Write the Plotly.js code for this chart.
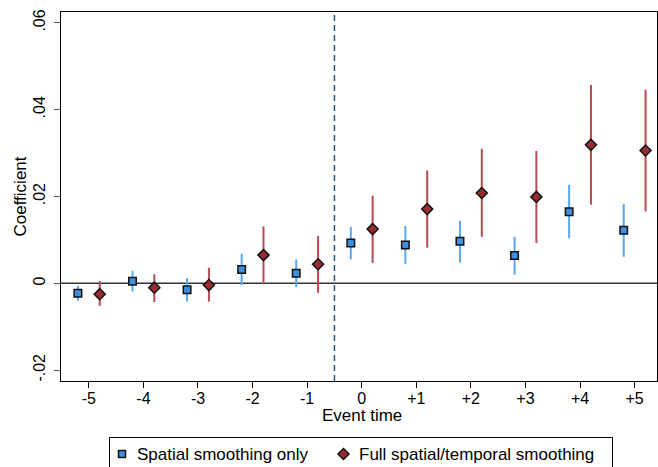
<!DOCTYPE html>
<html>
<head>
<meta charset="utf-8">
<script src="https://cdn.plot.ly/plotly-3.0.1.min.js"></script>
<style>html,body{margin:0;padding:0;background:#fff;}#chart{width:658px;height:467px;}</style>
</head>
<body>
<div id="chart"></div>
<script>
var eventTimes = [-5, -4, -3, -2, -1, 0, 1, 2, 3, 4, 5];
var tickLabels = ["-5", "-4", "-3", "-2", "-1", "0", "+1", "+2", "+3", "+4", "+5"];
var yTickVals = [-0.02, 0, 0.02, 0.04, 0.06];
var yTickLabels = ["-.02", "0", ".02", ".04", ".06"];
var seriesNames = ["Spatial smoothing only", "Full spatial/temporal smoothing"];

var spatialCoef = [-0.0023, 0.0005, -0.0015, 0.0032, 0.0023, 0.0093, 0.0088, 0.0097, 0.0064, 0.0165, 0.0122];
var spatialHi   = [-0.0006, 0.0029, 0.0012, 0.0068, 0.0055, 0.0130, 0.0132, 0.0144, 0.0107, 0.0227, 0.0183];
var spatialLo   = [-0.0040, -0.0019, -0.0042, -0.0004, -0.0009, 0.0055, 0.0044, 0.0048, 0.0020, 0.0104, 0.0061];

var fullCoef = [-0.0025, -0.0010, -0.0004, 0.0065, 0.0044, 0.0125, 0.0171, 0.0208, 0.0199, 0.0319, 0.0306];
var fullHi   = [0.0005, 0.0021, 0.0036, 0.0131, 0.0109, 0.0202, 0.0260, 0.0310, 0.0305, 0.0457, 0.0446];
var fullLo   = [-0.0052, -0.0043, -0.0042, -0.0002, -0.0022, 0.0047, 0.0082, 0.0107, 0.0093, 0.0181, 0.0166];

var offset = 0.2;
function shift(arr, d) { return arr.map(function (v) { return v + d; }); }
function diff(a, b) { return a.map(function (v, i) { return v - b[i]; }); }

var blueFill = "#3f8fe0", blueCI = "#55a8f2", redFill = "#9c2b31", redCI = "#b84a54";

var traces = [
  {
    type: "scatter", mode: "markers", name: seriesNames[0], showlegend: false,
    x: shift(eventTimes, -offset), y: spatialCoef,
    error_y: { type: "data", symmetric: false, array: diff(spatialHi, spatialCoef), arrayminus: diff(spatialCoef, spatialLo), color: blueCI, thickness: 2, width: 0 },
    marker: { symbol: "square", size: 7.5, color: blueFill, line: { color: "#111111", width: 1.5 } },
    cliponaxis: false
  },
  {
    type: "scatter", mode: "markers", name: seriesNames[1], showlegend: false,
    x: shift(eventTimes, offset), y: fullCoef,
    error_y: { type: "data", symmetric: false, array: diff(fullHi, fullCoef), arrayminus: diff(fullCoef, fullLo), color: redCI, thickness: 2, width: 0 },
    marker: { symbol: "diamond", size: 8.5, color: redFill, line: { color: "#111111", width: 1.5 } },
    cliponaxis: false
  }
];

// plot area in pixels: left 61, right 657, top 12, bottom 381
var W = 658, H = 467, L = 61, R = 1, T = 12, B = 86;
var pw = W - L - R, ph = H - T - B;
function px(x) { return (x - L) / pw; }
function py(y) { return (H - B - y) / ph; }

var legY = py(454);

var layout = {
  width: W, height: H,
  margin: { l: L, r: R, t: T, b: B },
  paper_bgcolor: "#ffffff", plot_bgcolor: "#ffffff",
  font: { family: "Liberation Sans, Arial, sans-serif", color: "#000000", size: 16 },
  showlegend: false,
  xaxis: {
    range: [-5.51, 5.41], tickmode: "array", tickvals: eventTimes, ticktext: tickLabels,
    ticks: "outside", ticklen: 6, tickwidth: 1, tickcolor: "#000000", ticklabelstandoff: -3,
    showgrid: false, zeroline: false, showline: true, linecolor: "#000000", linewidth: 1, mirror: true,
    tickfont: { size: 16 }, automargin: false
  },
  yaxis: {
    range: [-0.0225, 0.0625], tickmode: "array", tickvals: yTickVals,
    ticktext: yTickLabels, tickangle: -90,
    ticks: "outside", ticklen: 6, tickwidth: 1, tickcolor: "#555555", ticklabelstandoff: 3,
    showgrid: false, zeroline: false, showline: true, linecolor: "#000000", linewidth: 1, mirror: true,
    tickfont: { size: 16 }, automargin: false
  },
  shapes: [
    { type: "line", xref: "paper", x0: 0, x1: 1, yref: "y", y0: 0, y1: 0, line: { color: "#333333", width: 1.5 }, layer: "below" },
    { type: "line", xref: "x", x0: -0.5, x1: -0.5, yref: "paper", y0: 0, y1: 1, line: { color: "#1f5a8c", width: 1.5, dash: "6px,4px" }, layer: "below" },
    // legend box
    { type: "rect", xref: "paper", yref: "paper", x0: px(109.5), x1: px(612.5), y0: py(437.5), y1: py(480), line: { color: "#000000", width: 1 }, fillcolor: "#ffffff" },
    // legend square
    { type: "rect", xref: "paper", yref: "paper", xsizemode: "pixel", ysizemode: "pixel", xanchor: px(122), yanchor: legY,
      x0: -3.5, x1: 3.5, y0: -3.5, y1: 3.5, line: { color: "#111111", width: 1.5 }, fillcolor: blueFill },
    // legend diamond
    { type: "path", xref: "paper", yref: "paper", xsizemode: "pixel", ysizemode: "pixel", xanchor: px(343.5), yanchor: legY,
      path: "M 0,5.5 L 5.5,0 L 0,-5.5 L -5.5,0 Z", line: { color: "#111111", width: 1.5 }, fillcolor: redFill }
  ],
  annotations: [
    { xref: "paper", yref: "paper", x: px(135), y: legY, xanchor: "left", yanchor: "middle", showarrow: false,
      text: seriesNames[0], font: { size: 17, color: "#000000" } },
    { xref: "paper", yref: "paper", x: px(356.5), y: legY, xanchor: "left", yanchor: "middle", showarrow: false,
      text: seriesNames[1], font: { size: 17, color: "#000000" } },
    { xref: "paper", yref: "paper", x: 0.5 * (px(321) + px(403)), y: py(415), xanchor: "center", yanchor: "middle", showarrow: false,
      text: "Event time", font: { size: 17, color: "#000000" } },
    { xref: "paper", yref: "paper", x: px(20.5), y: py(197), xanchor: "center", yanchor: "middle", showarrow: false, textangle: -90,
      text: "Coefficient", font: { size: 17, color: "#000000" } }
  ]
};

Plotly.newPlot("chart", traces, layout, { displayModeBar: false, staticPlot: true });
</script>
</body>
</html>
